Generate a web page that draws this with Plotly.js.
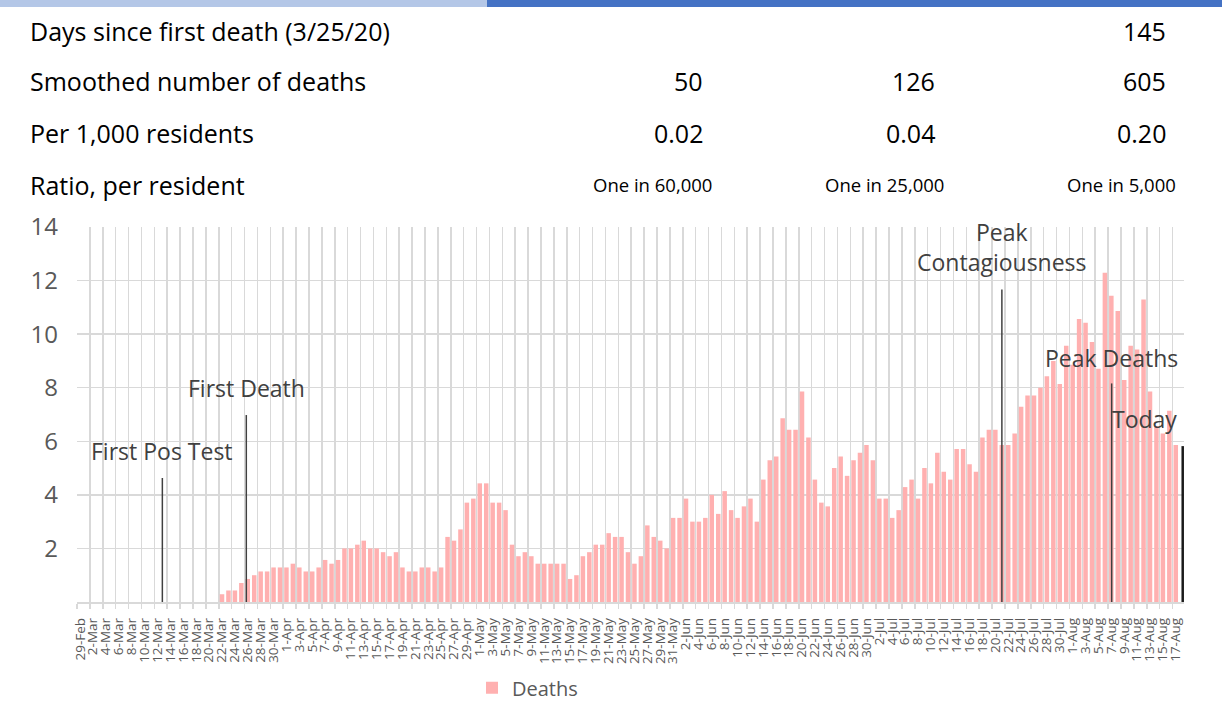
<!DOCTYPE html>
<html><head><meta charset="utf-8">
<script src="https://cdn.plot.ly/plotly-3.0.1.min.js"></script>
<style>html,body{margin:0;padding:0;background:#fff}#chart{width:1222px;height:709px}</style>
</head><body><div id="chart"></div>
<script>
const dates = [
"29-Feb",
"1-Mar","2-Mar","3-Mar","4-Mar","5-Mar","6-Mar","7-Mar","8-Mar","9-Mar","10-Mar","11-Mar","12-Mar","13-Mar","14-Mar","15-Mar","16-Mar","17-Mar","18-Mar","19-Mar","20-Mar","21-Mar","22-Mar","23-Mar","24-Mar","25-Mar","26-Mar","27-Mar","28-Mar","29-Mar","30-Mar","31-Mar",
"1-Apr","2-Apr","3-Apr","4-Apr","5-Apr","6-Apr","7-Apr","8-Apr","9-Apr","10-Apr","11-Apr","12-Apr","13-Apr","14-Apr","15-Apr","16-Apr","17-Apr","18-Apr","19-Apr","20-Apr","21-Apr","22-Apr","23-Apr","24-Apr","25-Apr","26-Apr","27-Apr","28-Apr","29-Apr","30-Apr",
"1-May","2-May","3-May","4-May","5-May","6-May","7-May","8-May","9-May","10-May","11-May","12-May","13-May","14-May","15-May","16-May","17-May","18-May","19-May","20-May","21-May","22-May","23-May","24-May","25-May","26-May","27-May","28-May","29-May","30-May","31-May",
"1-Jun","2-Jun","3-Jun","4-Jun","5-Jun","6-Jun","7-Jun","8-Jun","9-Jun","10-Jun","11-Jun","12-Jun","13-Jun","14-Jun","15-Jun","16-Jun","17-Jun","18-Jun","19-Jun","20-Jun","21-Jun","22-Jun","23-Jun","24-Jun","25-Jun","26-Jun","27-Jun","28-Jun","29-Jun","30-Jun",
"1-Jul","2-Jul","3-Jul","4-Jul","5-Jul","6-Jul","7-Jul","8-Jul","9-Jul","10-Jul","11-Jul","12-Jul","13-Jul","14-Jul","15-Jul","16-Jul","17-Jul","18-Jul","19-Jul","20-Jul","21-Jul","22-Jul","23-Jul","24-Jul","25-Jul","26-Jul","27-Jul","28-Jul","29-Jul","30-Jul","31-Jul",
"1-Aug","2-Aug","3-Aug","4-Aug","5-Aug","6-Aug","7-Aug","8-Aug","9-Aug","10-Aug","11-Aug","12-Aug","13-Aug","14-Aug","15-Aug","16-Aug","17-Aug"
];

const deaths = [
0,0,0,0,0,0,0,0,0,0,0,0,0,0,0,0,0,0,0,0,0,0,
0.29,0.43,0.43,0.71,0.86,1.00,1.14,1.14,1.29,1.29,
1.29,1.43,1.29,1.14,1.14,1.29,1.57,1.43,1.57,2.00,
2.00,2.14,2.29,2.00,2.00,1.86,1.71,1.86,1.29,1.14,
1.14,1.29,1.29,1.14,1.29,2.43,2.29,2.71,3.71,3.86,
4.43,4.43,3.71,3.71,3.43,2.14,1.71,1.86,1.71,1.43,
1.43,1.43,1.43,1.43,0.86,1.00,1.71,1.86,2.14,2.14,
2.57,2.43,2.43,1.86,1.43,1.71,2.86,2.43,2.29,2.00,
3.14,3.14,3.86,3.00,3.00,3.14,4.00,3.29,4.14,3.43,
3.14,3.57,3.86,3.00,4.57,5.29,5.43,6.86,6.43,6.43,
7.86,6.14,4.57,3.71,3.57,5.00,5.43,4.71,5.29,5.57,
5.86,5.29,3.86,3.86,3.14,3.43,4.29,4.57,3.86,5.00,
4.43,5.57,4.86,4.57,5.71,5.71,5.14,4.86,6.14,6.43,
6.43,5.86,5.86,6.29,7.29,7.71,7.71,8.00,8.43,9.00,
8.14,9.57,8.86,10.57,10.43,9.71,8.71,12.29,11.43,10.86,
8.29,9.57,9.43,11.29,7.86,6.57,6.29,7.14,5.86
];

const eventNames = ["First Pos Test", "First Death", "Peak<br>Contagiousness", "Peak Deaths", "Today"];
const eventDates = ["12-Mar", "25-Mar", "20-Jul", "6-Aug", "17-Aug"];
const eventHeights = [4.63, 6.98, 11.67, 8.16, 5.82];

const tableLabels = ["Days since first death (3/25/20)", "Smoothed number of deaths", "Per 1,000 residents", "Ratio, per resident"];
const colA = ["", "50", "0.02", "One in 60,000"];
const colB = ["", "126", "0.04", "One in 25,000"];
const colC = ["145", "605", "0.20", "One in 5,000"];

const yTicks = [2, 4, 6, 8, 10, 12, 14];

// ---- layout helpers (pixel -> paper for decorative text) ----
const L = 77, T = 227, W = 1107, H = 375;
const xp = px => (px - L) / W;
const yp = py => (T + H - py) / H;

const FONT = '"Open Sans", "Noto Sans", sans-serif';

const xIdx = dates.map((d, i) => i);
const tickIdx = xIdx.filter(i => i % 2 === 0);
const tickTxt = tickIdx.map(i => dates[i]);

const traces = [{
  type: 'bar', x: xIdx, y: deaths, name: 'Deaths',
  marker: {color: '#ffb0b0', line: {width: 0}},
  hoverinfo: 'skip'
}];

eventDates.forEach((d, i) => {
  const idx = dates.indexOf(d);
  const isToday = i === eventDates.length - 1;
  traces.push({
    type: 'scatter', mode: 'lines', xaxis: 'x2', yaxis: 'y',
    x: [idx, idx], y: [0, eventHeights[i]],
    line: {color: isToday ? '#1a1a1a' : '#404040', width: isToday ? 2.5 : 1.5},
    showlegend: false, hoverinfo: 'skip', cliponaxis: false
  });
});

const annotations = [];
const evShift = [9, 9, 9, 7, 9];
eventDates.forEach((d, i) => {
  const idx = dates.indexOf(d);
  const isToday = i === eventDates.length - 1;
  annotations.push({
    xref: 'x2', yref: 'y', x: idx, y: eventHeights[i],
    text: eventNames[i], showarrow: false,
    xanchor: isToday ? 'right' : 'center', yanchor: 'bottom',
    xshift: isToday ? -4 : 0, yshift: evShift[i],
    font: {family: FONT, size: 23, color: '#404040'}
  });
});

const rowY = [31, 81, 133, 185];
const colRight = [705, 937, 1168];
const smallRight = [714, 946, 1178];
tableLabels.forEach((t, r) => {
  annotations.push({xref: 'paper', yref: 'paper', x: xp(28), y: yp(rowY[r]), xanchor: 'left', yanchor: 'middle',
    text: t, showarrow: false, font: {family: FONT, size: 25, color: '#000000'}});
  [colA, colB, colC].forEach((col, c) => {
    if (!col[r]) return;
    const small = r === 3;
    annotations.push({xref: 'paper', yref: 'paper', x: xp(small ? smallRight[c] : colRight[c]), y: yp(rowY[r]),
      xanchor: 'right', yanchor: 'middle', text: col[r], showarrow: false,
      font: {family: FONT, size: small ? 18.5 : 25, color: '#000000'}});
  });
});

const layout = {
  width: 1222, height: 709,
  margin: {l: L, r: 1222 - L - W, t: T, b: 709 - T - H, pad: 0},
  paper_bgcolor: '#ffffff', plot_bgcolor: '#ffffff',
  font: {family: FONT, color: '#595959'},
  bargap: 0.3,
  hovermode: false,
  showlegend: true,
  legend: {orientation: 'h', x: xp(472), xanchor: 'left', y: 0.03, yref: 'container', yanchor: 'middle',
    font: {family: FONT, size: 20, color: '#595959'}},
  xaxis: {type: 'linear', range: [-0.5, 171.276],
    tickmode: 'array', tickvals: tickIdx, ticktext: tickTxt,
    tickangle: -90, tickfont: {family: FONT, size: 13.5, color: '#595959'},
    showgrid: false, ticks: '', ticklabelstandoff: 9,
    showline: true, linecolor: '#d9d9d9', linewidth: 1.5,
    minor: {tickmode: 'linear', tick0: -0.5, dtick: 2, showgrid: true, gridcolor: '#d9d9d9', gridwidth: 1.5,
      ticks: 'outside', ticklen: 5, tickcolor: '#d9d9d9', tickwidth: 1.5},
    zeroline: false, fixedrange: true},
  xaxis2: {overlaying: 'x', type: 'linear', range: [-1.2155, 170.2], visible: false, fixedrange: true},
  yaxis: {range: [0, 14], tickmode: 'array', tickvals: yTicks, ticktext: yTicks.map(String),
    tickfont: {family: FONT, size: 24, color: '#595959'},
    showgrid: true, gridcolor: '#d9d9d9', gridwidth: 1.5, zeroline: false, showline: false,
    ticks: '', ticklabelstandoff: 18, fixedrange: true},
  shapes: [
    {type: 'rect', xref: 'paper', yref: 'paper', x0: xp(0), x1: xp(487), y0: yp(7), y1: yp(0), fillcolor: '#b4c7e7', line: {width: 0}},
    {type: 'rect', xref: 'paper', yref: 'paper', x0: xp(487), x1: xp(1222), y0: yp(7), y1: yp(0), fillcolor: '#4472c4', line: {width: 0}}
  ],
  annotations: annotations
};

Plotly.newPlot('chart', traces, layout, {staticPlot: true, displayModeBar: false});
</script>
</body></html>
